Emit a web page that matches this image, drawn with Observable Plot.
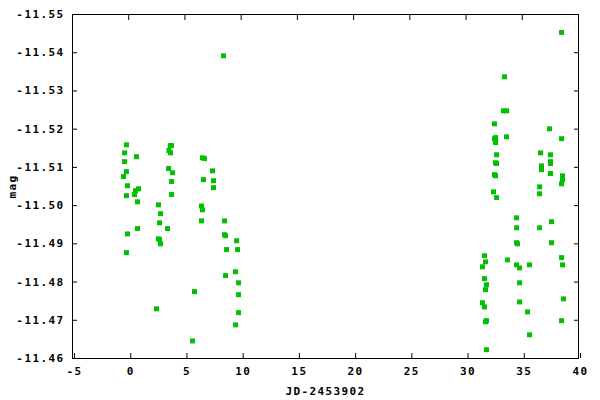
<!DOCTYPE html>
<html>
<head>
<meta charset="utf-8">
<script src="https://cdn.jsdelivr.net/npm/d3@7"></script>
<script src="https://cdn.jsdelivr.net/npm/@observablehq/plot@0.6"></script>
<style>
  html, body { margin: 0; padding: 0; background: #fff; }
</style>
</head>
<body>
<div id="chart"></div>
<script>
// JD-2453902 values
const jd = [
  -0.20, -0.37, -0.37, -0.20, -0.46, -0.11, -0.20, 0.69, 0.60, 0.87, 0.52, 0.78, 0.78, -0.11, -0.20,
  3.69, 3.81, 3.58, 3.72, 3.54, 3.90, 3.81, 3.81,
  2.65, 2.83, 2.74, 3.45, 2.65, 2.74, 2.83, 2.47,
  6.56, 6.74, 7.45, 6.65, 7.54, 7.54, 8.43, 6.47, 6.56, 6.47, 5.85, 5.67,
  8.52, 8.52, 8.61, 9.59, 8.70, 9.68, 9.50, 8.61, 9.77, 9.77, 9.77, 9.50,
  38.49, 33.42, 33.33, 33.60, 32.53, 37.42, 32.53, 32.62, 32.62, 33.60, 38.49,
  32.71, 36.62, 37.51, 32.62, 32.71, 36.71, 36.71, 37.51, 37.51,
  32.53, 32.62, 37.51, 38.58, 38.58, 38.49, 36.54, 32.44, 36.54, 32.71,
  34.49, 37.60, 34.49, 36.54, 34.49, 34.58, 37.60,
  31.64, 38.49, 31.73, 33.69, 31.46, 34.49, 34.76, 35.64, 38.58,
  31.64, 31.82, 31.73, 34.76, 38.67, 31.46, 31.64, 34.76, 35.47,
  31.73, 31.82, 38.49, 35.64, 31.82
];
// magnitudes
const mag = [
  -11.5159, -11.5138, -11.5115, -11.5089, -11.5076, -11.5052, -11.5026, -11.5128, -11.5039, -11.5044, -11.5029, -11.5010, -11.4940, -11.4926, -11.4877,
  -11.5157, -11.5157, -11.5144, -11.5138, -11.5097, -11.5086, -11.5063, -11.5029,
  -11.5002, -11.4979, -11.4955, -11.4940, -11.4913, -11.4911, -11.4900, -11.4730,
  -11.5125, -11.5123, -11.5091, -11.5068, -11.5065, -11.5047, -11.5392, -11.4999, -11.4989, -11.4960, -11.4775, -11.4646,
  -11.4960, -11.4924, -11.4921, -11.4908, -11.4885, -11.4885, -11.4827, -11.4817, -11.4798, -11.4767, -11.4720, -11.4688,
  -11.5453, -11.5337, -11.5248, -11.5248, -11.5214, -11.5201, -11.5175, -11.5178, -11.5165, -11.5180, -11.5175,
  -11.5133, -11.5138, -11.5133, -11.5112, -11.5110, -11.5104, -11.5094, -11.5115, -11.5110,
  -11.5081, -11.5078, -11.5084, -11.5078, -11.5068, -11.5057, -11.5049, -11.5036, -11.5031, -11.5021,
  -11.4968, -11.4958, -11.4942, -11.4942, -11.4903, -11.4900, -11.4903,
  -11.4869, -11.4864, -11.4853, -11.4858, -11.4840, -11.4845, -11.4837, -11.4845, -11.4845,
  -11.4809, -11.4793, -11.4780, -11.4798, -11.4756, -11.4746, -11.4735, -11.4748, -11.4722,
  -11.4696, -11.4699, -11.4699, -11.4662, -11.4623
];
const xTicks = [-5, 0, 5, 10, 15, 20, 25, 30, 35, 40];
const yTicks = [-11.46, -11.47, -11.48, -11.49, -11.50, -11.51, -11.52, -11.53, -11.54, -11.55];
const xLabel = "JD-2453902";
const yLabel = "mag";

const data = jd.map((x, i) => ({x, y: mag[i]}));

const chart = Plot.plot({
  width: 600,
  height: 400,
  marginLeft: 72,
  marginRight: 22,
  marginTop: 14,
  marginBottom: 42,
  style: {
    fontFamily: "'DejaVu Sans Mono', monospace",
    fontSize: "11px",
    fontWeight: "bold",
    background: "#fff",
    color: "#000",
    letterSpacing: "1.4px"
  },
  x: {domain: [-5, 40]},
  y: {domain: [-11.46, -11.55]},
  marks: [
    Plot.frame({stroke: "#000", strokeWidth: 1}),
    Plot.axisX(xTicks, {anchor: "bottom", tickSize: -5, tickPadding: 14, tickFormat: d => String(d), label: xLabel, labelAnchor: "center", labelArrow: "none", labelOffset: 36, dx: 2}),
    Plot.axisX(xTicks, {anchor: "top", tickSize: -5, tickFormat: () => "", label: null}),
    Plot.axisY(yTicks, {anchor: "left", tickSize: -5, tickPadding: 13, tickFormat: d => d.toFixed(2), label: yLabel, labelAnchor: "center", labelArrow: "none", labelOffset: 64}),
    Plot.axisY(yTicks, {anchor: "right", tickSize: -5, tickFormat: () => "", label: null}),
    Plot.dot(data, {x: "x", y: "y", symbol: "square", r: 2.8, fill: "#00c000", stroke: "none"})
  ]
});
document.getElementById("chart").appendChild(chart);
</script>
</body>
</html>
